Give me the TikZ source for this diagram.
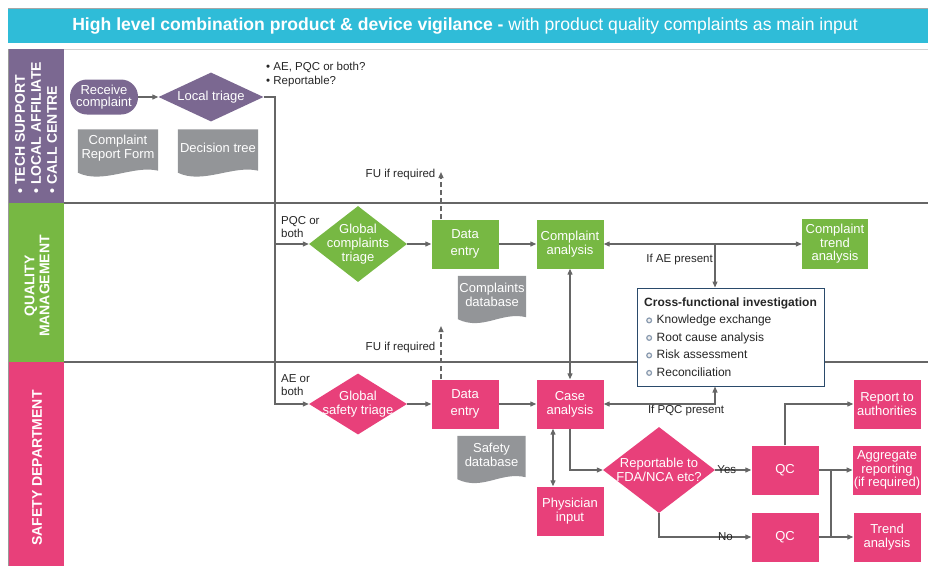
\documentclass[tikz,border=0pt]{standalone}
\usepackage{fontspec}
\setmainfont{Liberation Sans}
\usetikzlibrary{positioning, shapes.geometric, arrows.meta, backgrounds}

\definecolor{titlecyan}{HTML}{2FBCD8}
\definecolor{lanepurple}{HTML}{7B6891}
\definecolor{lanegreen}{HTML}{77B843}
\definecolor{lanepink}{HTML}{E8407A}
\definecolor{docgray}{HTML}{939598}
\definecolor{linegray}{HTML}{666666}
\definecolor{boxnavy}{HTML}{2A4A6B}
\definecolor{ringblue}{HTML}{8A9BB0}

% small ring used as bullet in the investigation box
\newcommand{\ringdot}{\tikz[baseline=-3.4pt]\draw[line width=1.2pt, draw=ringblue, fill=gray!12] (0,0) circle (2.4pt);}

% grey document sheet with wavy lower edge, drawn behind node #1
\newcommand{\docwave}[1]{%
  \begin{scope}[on background layer]
    \fill[docgray] (#1.north west) -- (#1.north east) -- ([yshift=-4pt]#1.south east)
      .. controls ([xshift=-25pt,yshift=2pt]#1.south east) and ([xshift=25pt,yshift=-18pt]#1.south west)
      .. ([yshift=-6pt]#1.south west) -- cycle;
  \end{scope}}

\begin{document}
\begin{tikzpicture}[
    x = 1pt, y = -1pt,  % pixel grid, y pointing down
    every node/.style = {font=\fontsize{13}{14}\selectfont, align=center},
    flow/.style = {text=white, minimum width=67pt, minimum height=49pt, inner sep=1pt},
    qbox/.style = {flow, fill=lanegreen},
    sbox/.style = {flow, fill=lanepink},
    choice/.style = {diamond, text=white, inner sep=-8pt, aspect=1.3},
    docbox/.style = {text=white, minimum height=37pt, inner sep=1pt},
    note/.style = {font=\fontsize{11.5}{13}\selectfont, text=black!85, inner sep=1pt},
    lanetext/.style = {rotate=90, text=white, font=\fontsize{14}{16}\selectfont\bfseries},
    conn/.style = {draw=linegray, line width=1.2pt},
    arrow/.style = {conn, -{Triangle[length=6pt, width=5pt]}},
    twoway/.style = {conn, {Triangle[length=6pt, width=5pt]}-{Triangle[length=6pt, width=5pt]}},
    fu/.style = {arrow, dash pattern=on 5pt off 3pt}
  ]
  \useasboundingbox (0,0) rectangle (928,566);

  % header and swim lanes
  \fill[titlecyan] (8,9) rectangle (928,43);
  \draw[gray!70, line width=0.8pt] (8,8) -- (928,8);
  \node[text=white, font=\fontsize{17.6}{20}\selectfont] (title) at (465,26)
    {\textbf{High level combination product \& device vigilance -} with product quality complaints as main input};
  \draw[gray!35, line width=1pt] (64,49) -- (928,49);
  \fill[lanepurple] (8,49) rectangle (64,203);
  \fill[lanegreen] (8,203) rectangle (64,362);
  \fill[lanepink] (8,362) rectangle (64,566);
  \draw[gray!80, line width=0.8pt] (8,49) -- (8,566);
  \draw[linegray, line width=1.6pt] (64,203) -- (928,203) (64,362) -- (928,362);

  \node[lanetext, align=left, anchor=west] (techlane) at (36,197)
    {• TECH SUPPORT\\• LOCAL AFFILIATE\\• CALL CENTRE};
  \node[lanetext, font=\fontsize{14}{15}\selectfont\bfseries] (qmlane) at (37,286) {QUALITY\\MANAGEMENT};
  \node[lanetext] (safetylane) at (37,468) {SAFETY DEPARTMENT};

  % local triage
  \node[fill=lanepurple, text=white, rounded corners=17pt, minimum width=68pt,
        minimum height=35pt, inner sep=1pt, font=\fontsize{13}{12.5}\selectfont]
    (receive) at (104,97) {Receive\\complaint};
  \node[choice, fill=lanepurple, minimum width=105pt, minimum height=49pt] (ltriage) at (211,97) {Local triage};
  \node[docbox, minimum width=80pt] (crform) at (118,148) {Complaint\\Report Form};
  \node[docbox, minimum width=80pt] (dtree) at (218,148) {Decision tree};
  \docwave{crform}
  \docwave{dtree}
  \node[note, anchor=west, align=left, font=\fontsize{11.5}{14}\selectfont] (questions) at (265,75)
    {• AE, PQC or both?\\• Reportable?};

  % quality management
  \node[choice, fill=lanegreen, minimum width=98pt, minimum height=76pt] (ctriage) at (358,244) {Global\\complaints\\triage};
  \node[qbox] (qentry) at (465,244) {Data\\[3pt]entry};
  \node[qbox] (qanalysis) at (570,244) {Complaint\\analysis};
  \node[qbox, minimum width=66pt, minimum height=50pt, font=\fontsize{13}{13.5}\selectfont] (qtrend) at (835,244) {Complaint\\trend\\analysis};
  \node[docbox, minimum width=68pt] (cdb) at (492,294.5) {Complaints\\database};
  \docwave{cdb}
  \node[draw=boxnavy, line width=1pt, fill=white, minimum width=187pt, minimum height=98pt,
        align=left, text=black!85, font=\fontsize{12}{17.5}\selectfont] (crossinv) at (730.5,337)
    {\textbf{Cross-functional investigation}\\
     \hspace{2pt}\ringdot\hspace{4.5pt}Knowledge exchange\\
     \hspace{2pt}\ringdot\hspace{4.5pt}Root cause analysis\\
     \hspace{2pt}\ringdot\hspace{4.5pt}Risk assessment\\
     \hspace{2pt}\ringdot\hspace{4.5pt}Reconciliation};

  % safety department
  \node[choice, fill=lanepink, minimum width=98pt, minimum height=61pt] (striage) at (358,404) {Global\\safety triage};
  \node[sbox] (sentry) at (465,404) {Data\\[3pt]entry};
  \node[sbox] (scase) at (570,404) {Case\\analysis};
  \node[docbox, minimum width=68pt] (sdb) at (491.5,454.5) {Safety\\database};
  \docwave{sdb}
  \node[sbox] (physician) at (570,511) {Physician\\input};
  \node[choice, fill=lanepink, minimum width=112pt, minimum height=86pt] (reportable) at (659,470) {Reportable to\\FDA/NCA etc?};
  \node[sbox] (qcyes) at (785,470) {QC};
  \node[sbox] (qcno) at (785,537) {QC};
  \node[sbox] (authorities) at (887,404) {Report to\\authorities};
  \node[sbox, font=\fontsize{13}{13.5}\selectfont] (aggregate) at (887,470) {Aggregate\\reporting\\(if required)};
  \node[sbox] (trendanalysis) at (887,537) {Trend\\analysis};

  % connectors
  \coordinate (trunk) at (275,97);
  \coordinate (pqcturn) at (trunk |- ctriage.west);
  \coordinate (aeturn) at (trunk |- striage.west);
  \coordinate (aejoin) at (715,244);
  \coordinate (futop) at (441,172);
  \coordinate (fubottom) at (441,326);
  \coordinate (qcjoin) at (831,470);

  \draw[arrow] (receive) -- (ltriage);
  \draw[arrow] (ltriage.east) -- (trunk) |- (striage.west);
  \draw[arrow] (pqcturn) -- (ctriage.west);
  \draw[arrow] (ctriage) -- (qentry);
  \draw[arrow] (qentry) -- (qanalysis);
  \draw[twoway] (qanalysis) -- (qtrend);
  \draw[arrow] (aejoin) -- (aejoin |- crossinv.north);
  \draw[twoway] (qanalysis) -- (scase);
  \draw[twoway] (scase.east) -| node[note, below, pos=0.37] (pqclabel) {If PQC present} (aejoin |- crossinv.south);
  \draw[arrow] (striage) -- (sentry);
  \draw[arrow] (sentry) -- (scase);
  \draw[twoway] ([xshift=-17pt]scase.south) -- ([xshift=-17pt]physician.north);
  \draw[arrow] (scase.south) |- (reportable.west);
  \draw[arrow] (reportable.east) -- node[note, pos=0.32, inner sep=0pt] (yes) {Yes} (qcyes.west);
  \draw[arrow] (reportable.south) |- node[note, pos=0.86, inner sep=0pt] (no) {No} (qcno.west);
  \draw[arrow] (qcyes.north) |- (authorities.west);
  \draw[arrow] (qcyes) -- (aggregate);
  \draw[arrow] (qcno) -- (trendanalysis);
  \draw[conn] (qcjoin) -- (qcjoin |- qcno);

  \draw[fu] (qentry.north -| futop) -- (futop)
    node[note, left, xshift=-4pt, yshift=-3pt] (fuq) {FU if required};
  \draw[fu] (sentry.north -| fubottom) -- node[note, left, pos=0.6, xshift=-4pt] (fus) {FU if required} (fubottom);

  % Labels
  \node[note, anchor=south west, align=left] (pqcboth) at ([xshift=5pt, yshift=5pt]pqcturn) {PQC or\\both};
  \node[note, anchor=south west, align=left] (aeboth) at ([xshift=5pt, yshift=7pt]aeturn) {AE or\\both};
  \node[note, anchor=east] (aelabel) at ([xshift=-1pt, yshift=-16pt]aejoin) {If AE present};

\end{tikzpicture}
\end{document}
